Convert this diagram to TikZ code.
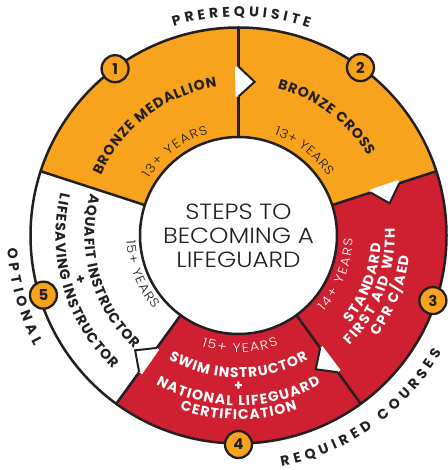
\documentclass[tikz,border=0pt]{standalone}
\usepackage{fontspec}
\usetikzlibrary{decorations.text}

\newfontfamily\geofont{Poppins}
\IfFontExistsTF{Poppins Light}{%
  \newfontfamily\geowide{Poppins Light}[FakeStretch=1.12]}{%
  \newfontfamily\geowide{Poppins}[FakeStretch=1.12]}
\newcommand\gb{\geofont\bfseries\fontsize{14}{14}\selectfont}
\newcommand\gl{\geowide\fontsize{12.5}{12.5}\selectfont}

\definecolor{ringorange}{HTML}{F8A31E}
\definecolor{ringred}{HTML}{CE2030}
\definecolor{ink}{HTML}{231F20}

% annular sector between the inner and outer rings
\newcommand\ringsector[3]{%
  \fill[#3] (#1:98.5pt) arc[start angle=#1,end angle=#2,radius=98.5pt]
    -- (#2:208pt) arc[start angle=#2,end angle=#1,radius=208pt] -- cycle;}

% text set along a concentric arc: radius, start angle, end angle, colour, text
\newcommand\arctext[5]{%
  \path[decorate,decoration={text along path,text align={fit to path},
        text color=#4,text={#5}}]
    (#2:#1) arc[start angle=#2,end angle=#3,radius=#1];}

\tikzset{
  ringline/.style={draw=ink,line width=2.5pt},
  arrowline/.style={draw=ink,line width=2pt,line join=miter},
  badge/.style={circle,draw=ink,line width=2.3pt,fill=ringorange,
    minimum size=27pt,inner sep=0pt,text=ink,
    font=\geofont\bfseries\fontsize{15}{15}\selectfont},
  titleline/.style={anchor=base,inner sep=0pt,text=ink,
    font=\geowide\fontsize{22}{22}\selectfont},
  plus/.style={inner sep=0pt,font=\gb},
}

\begin{document}
\begin{tikzpicture}[x=1pt,y=1pt]
\useasboundingbox (-238.5,-234.5) rectangle (208.5,235.5);

% ring segments
\ringsector{90}{162}{ringorange}
\ringsector{18}{90}{ringorange}
\ringsector{-54}{18}{ringred}
\ringsector{-126}{-54}{ringred}
\ringsector{162}{234}{white}

% segment borders and rings
\foreach \a in {90,18,-54,-126,162}
  \draw[ringline] (\a:98.5pt) -- (\a:208pt);
\draw[ringline] (0,0) circle[radius=208pt];
\draw[ringline,fill=white] (0,0) circle[radius=98.5pt];

% step arrows on the borders
\foreach \a in {90,18,-54,-126}{
  \fill[white] (\a+1.2:139pt) -- (\a:139pt) -- (\a-6:154.5pt) -- (\a:169pt)
    -- (\a+1.2:169pt) -- cycle;
  \draw[arrowline] (\a:139pt) -- (\a-6:154.5pt) -- (\a:169pt);
}

% centre title
\node[titleline] (title1) at (0,15.5) {STEPS TO};
\node[titleline] (title2) at (0,-8.5) {BECOMING A};
\node[titleline] (title3) at (0,-32) {LIFEGUARD};

% step 1
\arctext{150pt}{156.3}{98.3}{ink}{|\gb|BRONZE MEDALLION}
\arctext{106.3pt}{147.8}{106.5}{ink}{|\gl|13+ YEARS}
% step 2
\arctext{152pt}{75.2}{31.5}{ink}{|\gb|BRONZE CROSS}
\arctext{107pt}{70.4}{33.5}{ink}{|\gl|13+ YEARS}
% step 3
\arctext{114.2pt}{-41.8}{-1.6}{white}{|\gl|14+ YEARS}
\arctext{142.4pt}{-37.9}{-3.3}{white}{|\gb|STANDARD}
\arctext{156.4pt}{-44.9}{2.6}{white}{|\gb|FIRST AID WITH}
\arctext{171.9pt}{-36}{-6.9}{white}{|\gb|CPR C/AED}
% step 4
\arctext{116.7pt}{-108.4}{-70.1}{white}{|\gl|15+ YEARS}
\arctext{142pt}{-119.6}{-60.5}{white}{|\gb|SWIM INSTRUCTOR}
\node[plus,text=white] (plus4) at (-90:151pt) {+};
\arctext{170pt}{-119.1}{-61}{white}{|\gb|NATIONAL LIFEGUARD}
\arctext{184pt}{-108.6}{-71.3}{white}{|\gb|CERTIFICATION}
% step 5
\arctext{112.2pt}{182.6}{221}{ink}{|\gl|15+ YEARS}
\arctext{154pt}{164.1}{227.3}{ink}{|\gb|AQUAFIT INSTRUCTOR}
\node[plus,text=ink,rotate=-74.5] (plus5) at (195.5:164.5pt) {+};
\arctext{183pt}{166.5}{226.6}{ink}{|\gb|LIFESAVING INSTRUCTOR}

% outer headings
\arctext{219pt}{107.2}{71.2}{ink}{|\gb|PREREQUISITE}
\arctext{231.5pt}{183.1}{208.5}{ink}{|\gb|OPTIONAL}
\arctext{234.5pt}{-79.4}{-29.9}{ink}{|\gb|REQUIRED COURSES}

% step badges
\node[badge] (badge1) at (126.5:207.5pt) {1};
\node[badge] (badge2) at (54:207.5pt) {2};
\node[badge] (badge3) at (-18.5:205pt) {3};
\node[badge] (badge4) at (-90:209pt) {4};
\node[badge] (badge5) at (197:204pt) {5};
\end{tikzpicture}
\end{document}
